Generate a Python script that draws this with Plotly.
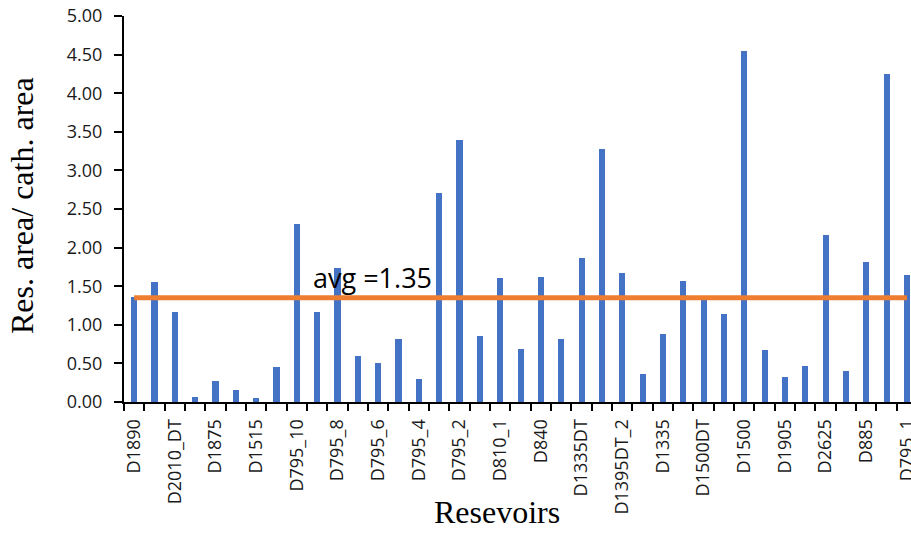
import plotly.graph_objects as go

# Data (39 reservoirs, every other one labelled)
tick_labels = ["D1890", "D2010_DT", "D1875", "D1515", "D795_10", "D795_8", "D795_6",
               "D795_4", "D795_2", "D810_1", "D840", "D1335DT", "D1395DT_2", "D1335",
               "D1500DT", "D1500", "D1905", "D2625", "D885", "D795_1"]
ratio = [1.36, 1.56, 1.17, 0.06, 0.27, 0.15, 0.05, 0.45, 2.31, 1.16,
         1.73, 0.60, 0.51, 0.81, 0.30, 2.71, 3.39, 0.86, 1.61, 0.69,
         1.62, 0.81, 1.87, 3.28, 1.67, 0.36, 0.88, 1.57, 1.33, 1.14,
         4.55, 0.68, 0.33, 0.46, 2.16, 0.40, 1.82, 4.25, 1.65]
y_ticks = [0, 0.5, 1.0, 1.5, 2.0, 2.5, 3.0, 3.5, 4.0, 4.5, 5.0]

n = len(ratio)
x_idx = list(range(n))
avg = round(sum(ratio) / n, 2)

fig = go.Figure()
fig.add_trace(go.Bar(x=x_idx, y=ratio, width=0.3, marker=dict(color="#4472C4", line=dict(width=0)),
                     showlegend=False))
fig.add_trace(go.Scatter(x=[x_idx[0], x_idx[-1]], y=[avg, avg], mode="lines",
                         line=dict(color="#ED7D31", width=5), showlegend=False))

fig.add_annotation(x=11.7, y=avg, xref="x", yref="y", text=f"avg ={avg}", showarrow=False,
                   xanchor="center", yanchor="bottom", yshift=0,
                   font=dict(family="Open Sans", size=27, color="#000000"))

fig.add_annotation(xref="paper", yref="paper", x=(497 - 124) / 787, y=-(513 - 403) / 386,
                   xanchor="center", yanchor="middle", text="Resevoirs", showarrow=False,
                   font=dict(family="Liberation Serif", size=32, color="#000000"))
fig.add_annotation(xref="paper", yref="paper", x=-(124 - 22) / 787, y=(403 - 207) / 386,
                   xanchor="center", yanchor="middle", text="Res. area/ cath. area", showarrow=False,
                   textangle=-90, font=dict(family="Liberation Serif", size=32, color="#000000"))

fig.update_layout(
    width=911, height=533,
    margin=dict(l=124, r=0, t=16, b=131, autoexpand=False),
    plot_bgcolor="white", paper_bgcolor="white",
    bargap=0,
)
fig.update_xaxes(
    range=[-0.5, 38.2], tickmode="array", tickvals=x_idx[::2], ticktext=tick_labels,
    tickangle=-90, ticks="", showgrid=False, zeroline=False, automargin=False,
    showline=True, linecolor="black", linewidth=2, ticklabelstandoff=8,
    ticklabeloverflow="allow",
    tickfont=dict(family="Open Sans", size=18, color="#1a1a1a"),
    minor=dict(ticks="outside", tickmode="linear", tick0=-0.5, dtick=1, ticklen=7,
               tickwidth=2, tickcolor="black", showgrid=False),
)
fig.update_yaxes(
    range=[0, 5], tickmode="array", tickvals=y_ticks, ticktext=[f"{v:.2f}" for v in y_ticks],
    ticks="outside", ticklen=8, tickwidth=2, tickcolor="black", ticklabelstandoff=8,
    showgrid=False, zeroline=False, showline=True, linecolor="black", linewidth=2,
    automargin=False,
    tickfont=dict(family="Open Sans", size=18, color="#1a1a1a"),
)

fig.write_html("out.html")
